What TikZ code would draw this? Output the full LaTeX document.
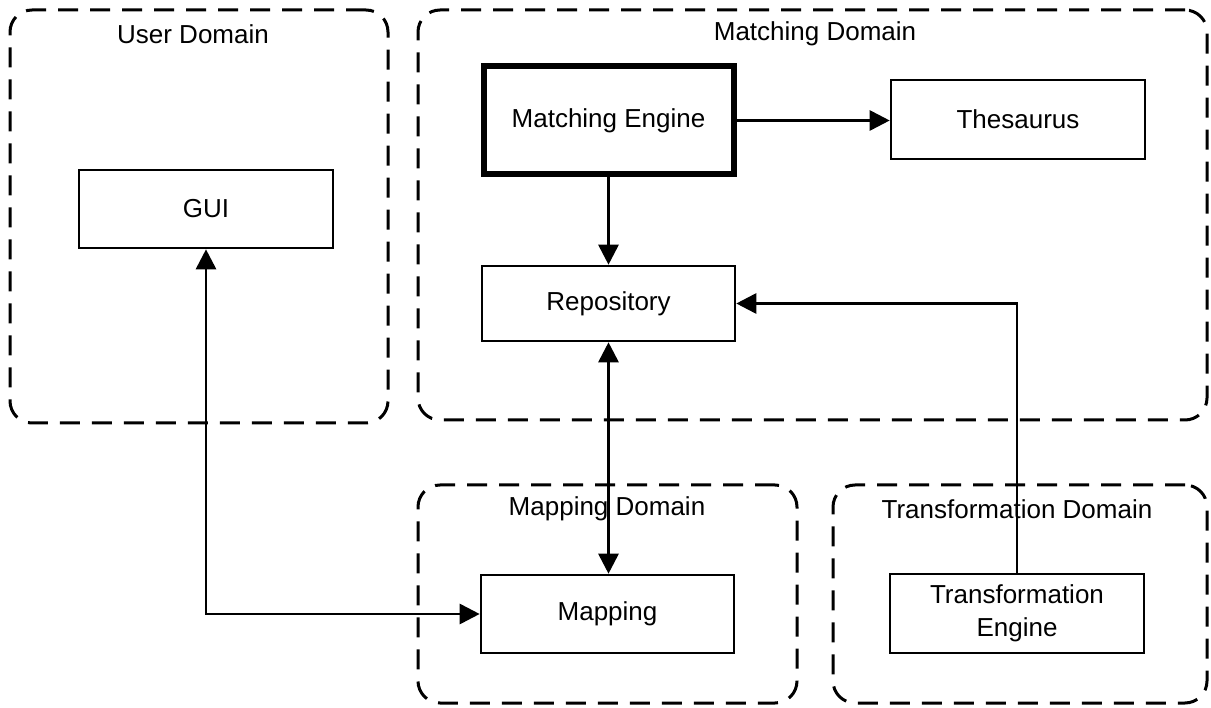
\documentclass[tikz,border=0pt]{standalone}
\usepackage{fontspec}
\setmainfont{Liberation Sans}
\usetikzlibrary{arrows.meta}
\begin{document}
\begin{tikzpicture}[x=1pt,y=-1pt,
  every node/.style={font=\fontsize{26}{33}\selectfont, inner sep=0pt},
  domainbox/.style={draw, line width=3pt, dash pattern=on 20pt off 12pt,
    rounded corners=22pt},
  compbox/.style={draw, line width=2.6pt, align=center},
  domtitle/.style={anchor=center},
  conn/.style={line width=2.8pt, -{Triangle[length=20pt,width=20pt]}},
  conntwo/.style={line width=2.8pt,
    {Triangle[length=20pt,width=20pt]}-{Triangle[length=20pt,width=20pt]}}]
\useasboundingbox (0,0) rectangle (1211,708);

% domains
\node[domainbox, minimum width=378pt, minimum height=413pt] (userd) at (199,216.5) {};
\node[domainbox, minimum width=789pt, minimum height=410pt] (matchd) at (812.5,215) {};
\node[domainbox, minimum width=379pt, minimum height=218pt] (mapd) at (607.5,594) {};
\node[domainbox, minimum width=374pt, minimum height=218pt] (transd) at (1020,594) {};

\node[domtitle] (userdt) at (193,34) {User Domain};
\node[domtitle] (matchdt) at (815,34) {Matching Domain};
\node[domtitle] (mapdt) at (607,509) {Mapping Domain};
\node[domtitle] (transdt) at (1017,509) {Transformation Domain};

% components
\node[compbox, minimum width=254pt, minimum height=78pt] (gui) at (206,209) {GUI};
\node[compbox, line width=6pt, minimum width=250pt, minimum height=108pt] (me) at (608.5,120.5) {Matching Engine};
\node[compbox, minimum width=254pt, minimum height=79pt] (thes) at (1018,119.5) {Thesaurus};
\node[compbox, minimum width=253pt, minimum height=75pt] (repo) at (608.5,303.5) {Repository};
\node[compbox, minimum width=253pt, minimum height=78pt] (map) at (607.5,614) {Mapping};
\node[compbox, minimum width=254pt, minimum height=79pt] (te) at (1017,613.5) {Transformation\\Engine};

% connectors
\draw[conn] (me.east) -- (me.east -| thes.west);
\draw[conn] (me.south) -- (repo.north);
\draw[conntwo] (repo.south) -- (repo.south |- map.north);
\draw[conntwo] (gui.south) |- (map.west);
\draw[conn] (te.north) |- (repo.east);
\end{tikzpicture}
\end{document}
